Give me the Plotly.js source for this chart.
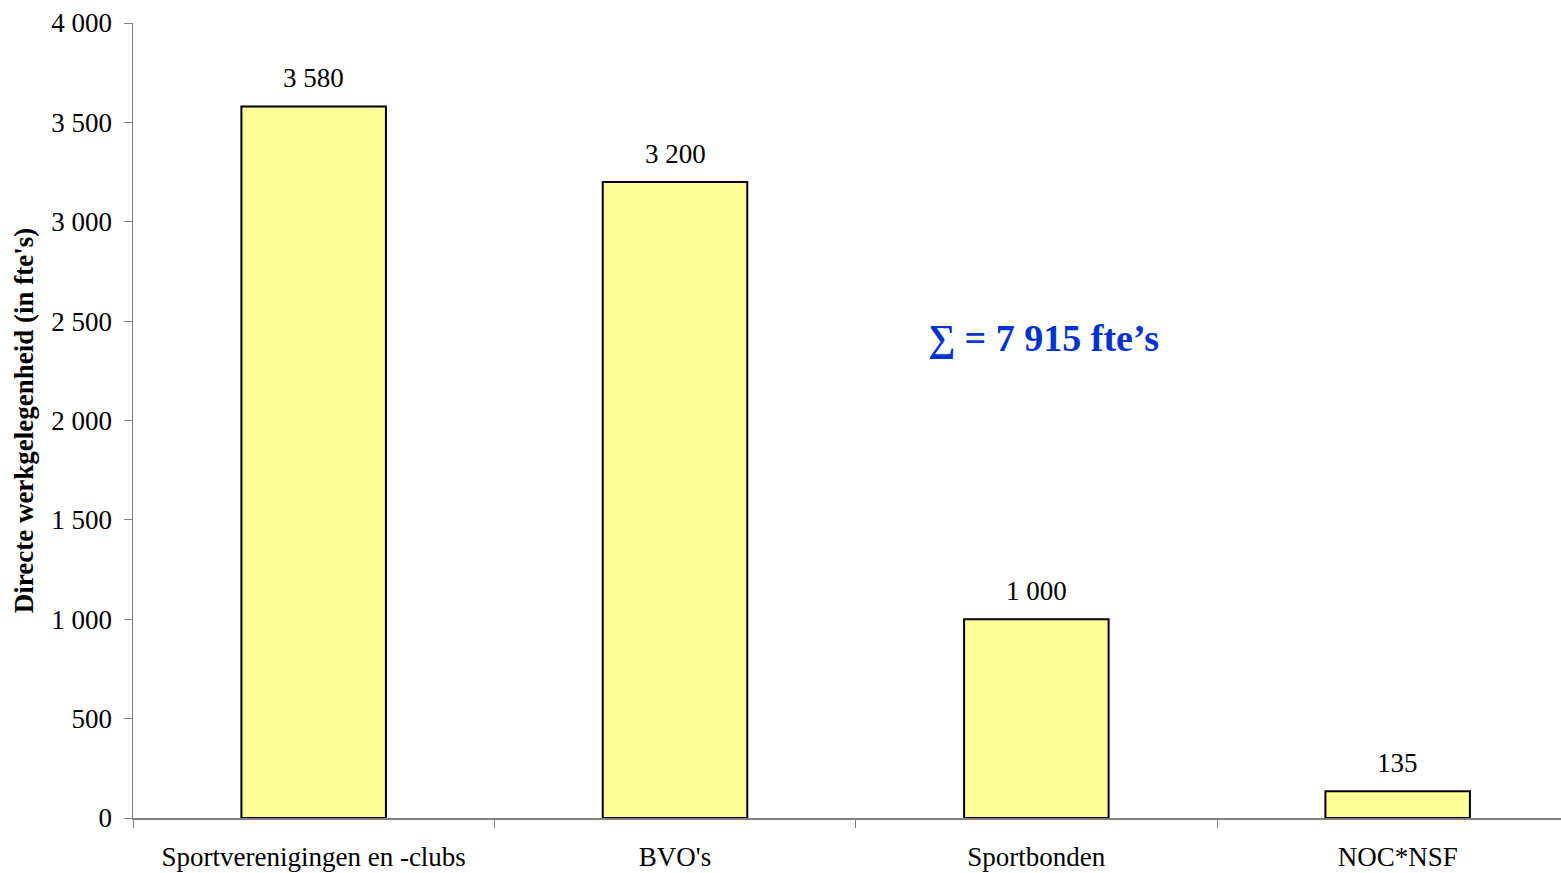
<!DOCTYPE html>
<html><head><meta charset="utf-8">
<script src="https://cdn.plot.ly/plotly-3.0.1.min.js"></script>
<style>html,body{margin:0;padding:0;background:#fff}#chart{width:1561px;height:873px}</style>
</head><body><div id="chart"></div>
<script>
const categories = ["Sportverenigingen en -clubs", "BVO's", "Sportbonden", "NOC*NSF"];
const values = [3580, 3200, 1000, 135];
const yTicks = [0, 500, 1000, 1500, 2000, 2500, 3000, 3500, 4000];
const totalLabel = "\u2211 = 7 915 fte\u2019s";
const yTitle = "Directe werkgelegenheid (in fte's)";

const font = "Liberation Serif, Times New Roman, serif";
const fmt = v => String(v).replace(/\B(?=(\d{3})+(?!\d))/g, ' ');
const labelAnns = categories.map((c, i) => ({
  x: c, y: values[i], xref: 'x', yref: 'y', text: fmt(values[i]), showarrow: false,
  yanchor: 'bottom', yshift: 11, font: {family: font, size: 27, color: '#000'}
}));
Plotly.newPlot('chart', [{
  type: 'bar', x: categories, y: values, width: 0.4,
  marker: {color: '#FFFF99', line: {color: '#000000', width: 2}},
  hoverinfo: 'none'
}], {
  width: 1561, height: 873,
  margin: {l: 133, r: 0, t: 23, b: 55},
  paper_bgcolor: '#fff', plot_bgcolor: '#fff',
  separators: ', ',
  showlegend: false,
  font: {family: font, size: 27, color: '#000'},
  xaxis: {range: [-0.5, 3.452], showline: true, linecolor: '#808080', linewidth: 1.5,
    ticks: 'outside', tickson: 'boundaries', ticklen: 8, tickcolor: '#808080',
    ticklabelstandoff: 14,
    tickfont: {family: font, size: 27}, showgrid: false, zeroline: false, fixedrange: true},
  yaxis: {range: [0, 4000], tickvals: yTicks, tickformat: ',', showline: true, linecolor: '#808080', linewidth: 1.5,
    ticks: 'outside', ticklen: 8, tickcolor: '#808080', showgrid: false, zeroline: false,
    ticklabelstandoff: 6,
    tickfont: {family: font, size: 27},
    title: {text: '<b>' + yTitle + '</b>', font: {family: font, size: 27}, standoff: 10}},
  annotations: labelAnns.concat([{text: '<b>' + totalLabel + '</b>', x: 2.021, y: 2415, xref: 'x', yref: 'y',
    showarrow: false, font: {family: font, size: 38, color: '#0033CC'}}])
}, {displayModeBar: false, staticPlot: true});
</script></body></html>
